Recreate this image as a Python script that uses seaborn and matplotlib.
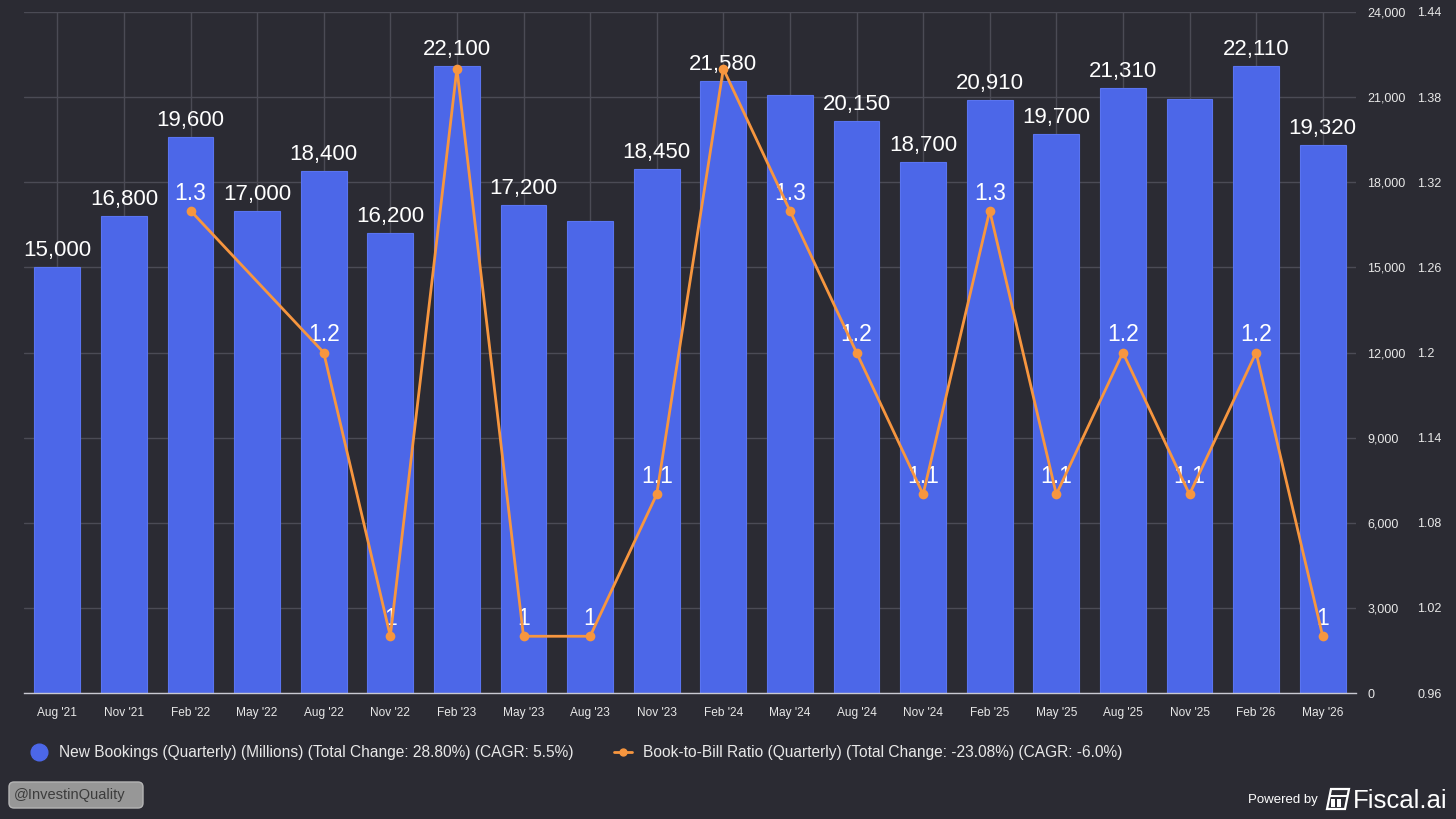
import numpy as np
import pandas as pd
import matplotlib
matplotlib.use("Agg")
import matplotlib.pyplot as plt
import seaborn as sns
from matplotlib.lines import Line2D
from matplotlib.patches import FancyBboxPatch, Polygon, Rectangle
from matplotlib.ticker import FuncFormatter

# data
quarters = ["Aug '21", "Nov '21", "Feb '22", "May '22", "Aug '22", "Nov '22",
            "Feb '23", "May '23", "Aug '23", "Nov '23", "Feb '24", "May '24",
            "Aug '24", "Nov '24", "Feb '25", "May '25", "Aug '25", "Nov '25",
            "Feb '26", "May '26"]
bookings = [15000, 16800, 19600, 17000, 18400, 16200, 22100, 17200, 16630, 18450,
            21580, 21060, 20150, 18700, 20910, 19700, 21310, 20930, 22110, 19320]
book_to_bill = [np.nan, np.nan, 1.3, np.nan, 1.2, 1.0, 1.4, 1.0, 1.0, 1.1,
                1.4, 1.3, 1.2, 1.1, 1.3, 1.1, 1.2, 1.1, 1.2, 1.0]
# labels the original chart hides because they collide
hidden_bar_labels = ["Aug '23", "May '24", "Nov '25"]
hidden_ratio_labels = ["Feb '23", "Feb '24"]

bookings_ticks = list(range(0, 24001, 3000))
ratio_ticks = [0.96, 1.02, 1.08, 1.14, 1.2, 1.26, 1.32, 1.38, 1.44]

legend_bookings = "New Bookings (Quarterly) (Millions) (Total Change: 28.80%) (CAGR: 5.5%)"
legend_ratio = "Book-to-Bill Ratio (Quarterly) (Total Change: -23.08%) (CAGR: -6.0%)"

bg = "#2b2b33"
blue = "#4c67e8"
orange = "#f7963f"
grid_c = "#4b4b55"
text_c = "#e8e8e8"

df = pd.DataFrame({"quarter": quarters, "pos": np.arange(len(quarters)),
                   "bookings": bookings, "ratio": book_to_bill})

sns.set_style("dark")
plt.rcParams["font.family"] = ["Liberation Sans", "DejaVu Sans"]

fig = plt.figure(figsize=(14.56, 8.19), dpi=100, facecolor=bg)
ax = fig.add_axes([24 / 1456, 1 - 693 / 819, 1332 / 1456, 681 / 819])
ax.set_facecolor(bg)

sns.barplot(data=df, x="pos", y="bookings", ax=ax, native_scale=True,
            color=blue, saturation=1, width=0.69, edgecolor="#5a74f0", linewidth=0.8)
ax.set_xlim(-0.5, len(quarters) - 0.5)
ax.set_ylim(0, 24000)
ax.set_yticks(bookings_ticks)
ax.yaxis.set_major_formatter(FuncFormatter(lambda v, p: f"{int(v):,}"))
ax.set_xticks(df["pos"], quarters)
ax.grid(True, axis="both", color=grid_c, linewidth=1)
ax.set_axisbelow(True)
ax.set_xlabel("")
ax.set_ylabel("")
for side in ["top", "left", "right"]:
    ax.spines[side].set_visible(False)
ax.spines["bottom"].set_color("#c9c9d2")
ax.spines["bottom"].set_linewidth(1)
ax.tick_params(axis="x", colors=text_c, labelsize=8.6, length=7, width=0.8,
               color="#55555f", pad=3)

for _, row in df.iterrows():
    if row["quarter"] in hidden_bar_labels:
        continue
    ax.annotate(f"{int(row['bookings']):,}", (row["pos"], row["bookings"]),
                xytext=(0, 8), textcoords="offset points", ha="center",
                va="baseline", fontsize=16, color="white", zorder=3)

ax2 = ax.twinx()
# twinx moves the first axis to the left, put both scales on the right
ax.yaxis.tick_right()
ax.tick_params(axis="y", colors=text_c, labelsize=9, length=0, pad=8,
               left=False, labelleft=False, right=True, labelright=True)

line_df = df.dropna(subset=["ratio"])
sns.lineplot(data=line_df, x="pos", y="ratio", ax=ax2, color=orange, linewidth=2,
             marker="o", markersize=7, markeredgewidth=0, zorder=5)
ax2.set_ylim(0.96, 1.44)
ax2.set_yticks(ratio_ticks)
ax2.yaxis.set_major_formatter(FuncFormatter(lambda v, p: f"{round(v, 2):g}"))
ax2.tick_params(axis="y", colors=text_c, labelsize=9, length=0, pad=44)
ax2.set_xlabel("")
ax2.set_ylabel("")
ax2.grid(False)
for side in ax2.spines:
    ax2.spines[side].set_visible(False)

for _, row in line_df.iterrows():
    if row["quarter"] in hidden_ratio_labels:
        continue
    ax2.annotate(f"{row['ratio']:g}", (row["pos"], row["ratio"]),
                 xytext=(0, 8), textcoords="offset points", ha="center",
                 va="baseline", fontsize=16.5, color="white", zorder=2)

handles = [Line2D([], [], marker="o", linestyle="", markersize=12, color=blue),
           Line2D([], [], marker="o", color=orange, linewidth=2, markersize=5)]
fig.legend(handles, [legend_bookings, legend_ratio], loc="center left",
           bbox_to_anchor=(30 / 1456, 1 - 753 / 819), ncol=2, frameon=False,
           fontsize=11.2, labelcolor=text_c, handlelength=1.2, handletextpad=0.65,
           columnspacing=2.6, borderpad=0, borderaxespad=0)

# footer
inch = fig.dpi_scale_trans
fig.patches.append(FancyBboxPatch((0.09, 0.11), 1.34, 0.26,
                                  boxstyle="round,pad=0,rounding_size=0.05",
                                  transform=inch, facecolor="#979797",
                                  edgecolor="#b5b5b5", linewidth=1))
fig.text(0.14, 0.24, "@InvestinQuality", transform=inch, fontsize=10.5,
         color="#3c3c3c", va="center", ha="left")

fig.text(13.18, 0.19, "Powered by", transform=inch, fontsize=9.5, color="white",
         va="center", ha="right")
fig.patches.append(Polygon([(13.27, 0.10), (13.45, 0.10), (13.49, 0.30), (13.31, 0.30)],
                           closed=True, transform=inch, facecolor="none",
                           edgecolor="white", linewidth=1.6))
fig.lines.append(Line2D([13.30, 13.47], [0.23, 0.23], transform=inch, color="white",
                        linewidth=1.4))
fig.patches.append(Rectangle((13.31, 0.12), 0.04, 0.08, transform=inch,
                             facecolor="white", edgecolor="none"))
fig.patches.append(Rectangle((13.37, 0.12), 0.04, 0.08, transform=inch,
                             facecolor="white", edgecolor="none"))
fig.text(13.53, 0.11, "Fiscal.ai", transform=inch, fontsize=18.5, color="white",
         va="baseline", ha="left")

fig.savefig("out.png", dpi=100, facecolor=bg)
